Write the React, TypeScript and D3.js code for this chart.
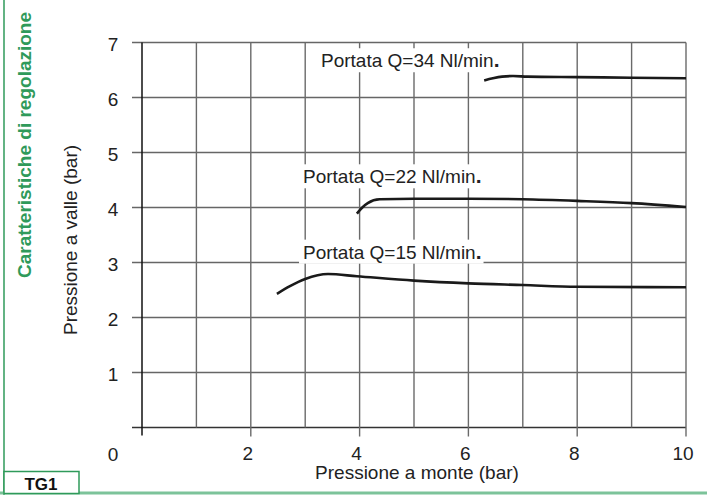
import { useEffect, useRef } from 'react';
import * as d3 from 'd3';

// valori
const gridX = [0, 1, 2, 3, 4, 5, 6, 7, 8, 9, 10];
const labelX = [2, 4, 6, 8, 10];
const gridY = [0, 1, 2, 3, 4, 5, 6, 7];
const labelY = [1, 2, 3, 4, 5, 6, 7];

const seriesNames = ['Portata Q=34 Nl/min', 'Portata Q=22 Nl/min', 'Portata Q=15 Nl/min'];

const q34Monte = [6.29, 6.45, 6.62, 6.82, 7.08, 8.0, 9.0, 10.0];
const q34Valle = [6.31, 6.35, 6.38, 6.39, 6.38, 6.37, 6.36, 6.35];

const q22Monte = [3.95, 4.05, 4.15, 4.37, 5.0, 6.0, 7.0, 8.0, 9.0, 10.0];
const q22Valle = [3.89, 4.0, 4.08, 4.15, 4.16, 4.16, 4.15, 4.12, 4.08, 4.01];

const q15Monte = [2.48, 2.72, 3.0, 3.42, 3.95, 5.0, 6.0, 7.0, 8.0, 10.0];
const q15Valle = [2.43, 2.57, 2.7, 2.79, 2.75, 2.67, 2.62, 2.59, 2.56, 2.55];

const FONT = '"Liberation Sans", Arial, Helvetica, sans-serif';

export default function App() {
  const svgRef = useRef<SVGSVGElement>(null);

  useEffect(() => {
    if (!svgRef.current) return;
    const svg = d3.select(svgRef.current);
    svg.selectAll('*').remove();

    const width = 707;
    const height = 495;
    const green = '#2f9a5a';
    const fs = '19px';

    const xScale = d3.scaleLinear().domain([0, 10]).range([142, 686]);
    const yScale = d3.scaleLinear().domain([0, 7]).range([427.5, 42.5]);

    svg.append('rect').attr('width', width).attr('height', height).attr('fill', '#fff');

    // griglia orizzontale
    const g = svg.append('g');
    g.selectAll('.hgrid')
      .data(gridY)
      .enter()
      .append('line')
      .attr('x1', 132)
      .attr('x2', xScale(10))
      .attr('y1', (d) => yScale(d))
      .attr('y2', (d) => yScale(d))
      .attr('stroke', (d) => (d === 0 ? '#333' : '#666'))
      .attr('stroke-width', 1.4);

    // griglia verticale
    g.selectAll('.vgrid')
      .data(gridX)
      .enter()
      .append('line')
      .attr('x1', (d) => xScale(d))
      .attr('x2', (d) => xScale(d))
      .attr('y1', yScale(7))
      .attr('y2', (d) => (d === 0 ? yScale(0) + 8 : d % 2 === 0 ? yScale(0) + 9 : yScale(0)))
      .attr('stroke', (d) => (d === 0 ? '#111' : '#6a6a6a'))
      .attr('stroke-width', (d) => (d === 0 ? 1.5 : 1.4));

    // etichette assi
    svg.selectAll('.ylab')
      .data(labelY)
      .enter()
      .append('text')
      .attr('x', 113)
      .attr('y', (d) => yScale(d) + 8)
      .attr('text-anchor', 'middle')
      .style('font-family', FONT)
      .style('font-size', fs)
      .style('fill', '#222')
      .text((d) => d);

    svg.append('text')
      .attr('x', 113)
      .attr('y', 461)
      .attr('text-anchor', 'middle')
      .style('font-family', FONT)
      .style('font-size', fs)
      .style('fill', '#222')
      .text('0');

    svg.selectAll('.xlab')
      .data(labelX)
      .enter()
      .append('text')
      .attr('x', (d) => xScale(d) - 3)
      .attr('y', 460)
      .attr('text-anchor', 'middle')
      .style('font-family', FONT)
      .style('font-size', fs)
      .style('fill', '#222')
      .text((d) => d);

    svg.append('text')
      .attr('x', 417)
      .attr('y', 479)
      .attr('text-anchor', 'middle')
      .style('font-family', FONT)
      .style('font-size', fs)
      .style('fill', '#222')
      .text('Pressione a monte (bar)');

    svg.append('text')
      .attr('transform', 'translate(77,240) rotate(-90)')
      .attr('text-anchor', 'middle')
      .style('font-family', FONT)
      .style('font-size', fs)
      .style('fill', '#222')
      .text('Pressione a valle (bar)');

    // etichette delle curve con sfondo bianco
    const annotations = [
      { name: seriesNames[0], x: 3.29, y: 6.55 },
      { name: seriesNames[1], x: 2.96, y: 4.44 },
      { name: seriesNames[2], x: 2.96, y: 3.07 },
    ];
    annotations.forEach((a) => {
      const lg = svg.append('g');
      const bg = lg.append('rect').attr('fill', '#fff');
      const t = lg
        .append('text')
        .attr('x', xScale(a.x))
        .attr('y', yScale(a.y))
        .style('font-family', FONT)
        .style('font-size', fs)
        .style('fill', '#222');
      t.append('tspan').text(a.name);
      t.append('tspan').style('font-weight', 'bold').style('font-size', '21px').text('.');
      const box = (t.node() as SVGTextElement).getBBox();
      bg.attr('x', box.x - 4)
        .attr('y', box.y)
        .attr('width', box.width + 6)
        .attr('height', box.height + 1);
    });

    // curve
    const line = d3
      .line<[number, number]>()
      .x((d) => xScale(d[0]))
      .y((d) => yScale(d[1]))
      .curve(d3.curveMonotoneX);

    const curves: [number[], number[]][] = [
      [q34Monte, q34Valle],
      [q22Monte, q22Valle],
      [q15Monte, q15Valle],
    ];
    curves.forEach(([xs, ys]) => {
      svg.append('path')
        .datum(xs.map((v, i) => [v, ys[i]] as [number, number]))
        .attr('fill', 'none')
        .attr('stroke', '#1a1a1a')
        .attr('stroke-width', 2.6)
        .attr('stroke-linecap', 'butt')
        .attr('d', line);
    });

    // cornice verde
    svg.append('line')
      .attr('x1', 4).attr('x2', 4).attr('y1', 0).attr('y2', height)
      .attr('stroke', green).attr('stroke-width', 1.5);
    svg.append('line')
      .attr('x1', 0).attr('x2', width).attr('y1', 493).attr('y2', 493)
      .attr('stroke', '#7cc39a').attr('stroke-width', 3);
    svg.append('rect')
      .attr('x', 4).attr('y', 471.5).attr('width', 75).attr('height', 22)
      .attr('fill', '#fff').attr('stroke', green).attr('stroke-width', 1.5);
    svg.append('text')
      .attr('x', 41)
      .attr('y', 490)
      .attr('text-anchor', 'middle')
      .style('font-family', FONT)
      .style('font-size', '17px')
      .style('font-weight', 'bold')
      .style('fill', '#111')
      .text('TG1');

    svg.append('text')
      .attr('transform', 'translate(31,145) rotate(-90)')
      .attr('text-anchor', 'middle')
      .style('font-family', FONT)
      .style('font-size', '19px')
      .style('font-weight', 'bold')
      .style('fill', green)
      .text('Caratteristiche di regolazione');
  }, []);

  return (
    <div style={{ position: 'absolute', left: 0, top: 0 }}>
      <svg ref={svgRef} width={707} height={495} style={{ display: 'block' }}></svg>
    </div>
  );
}
